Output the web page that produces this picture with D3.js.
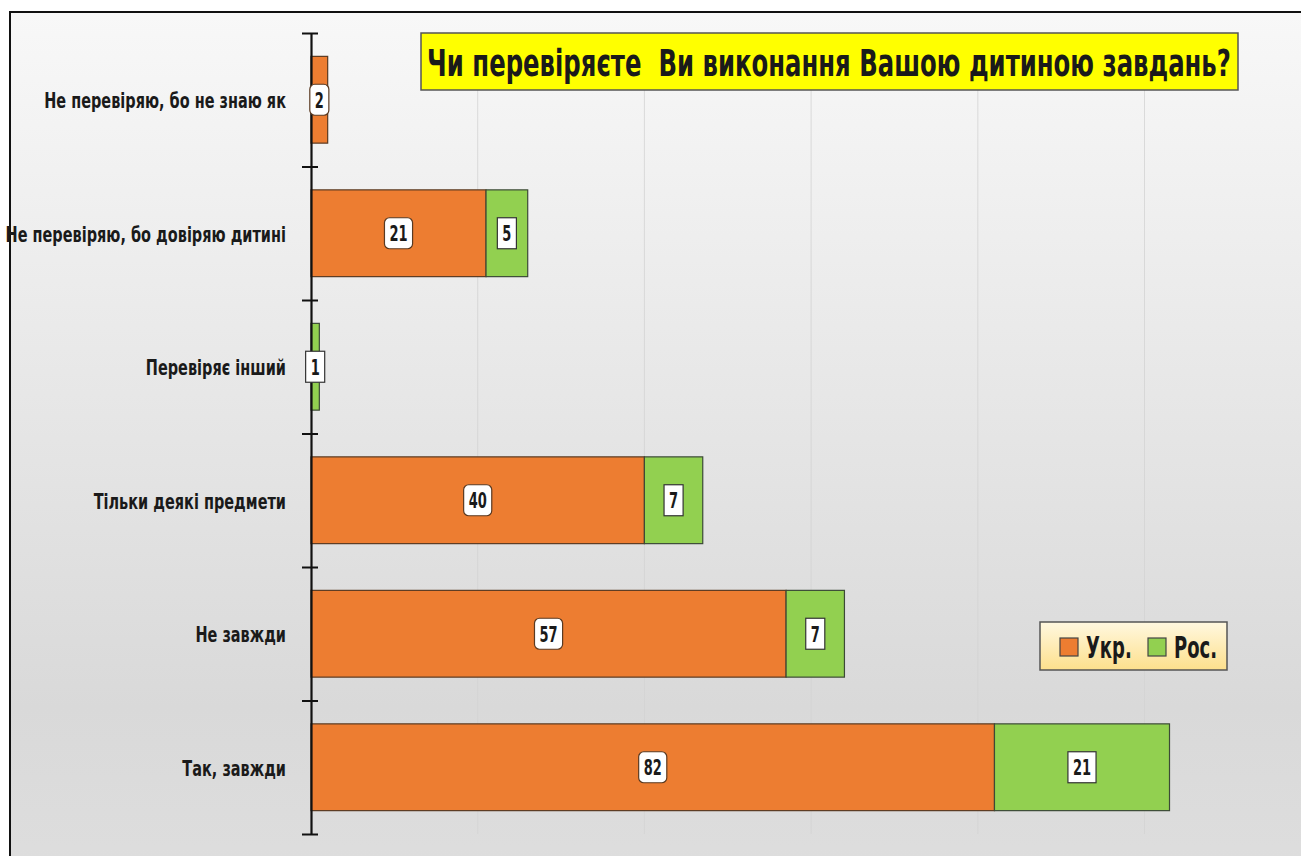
<!DOCTYPE html>
<html><head><meta charset="utf-8">
<script src="https://cdn.jsdelivr.net/npm/d3@7"></script>
<style>
html,body{margin:0;padding:0;background:#fff;}
svg{display:block;}
text{font-family:"DejaVu Sans",sans-serif;font-weight:bold;fill:#1a1a1a;white-space:pre;}
</style></head>
<body>
<svg id="chart" width="1301" height="856"></svg>
<script>
const categories = ["Не перевіряю, бо не знаю як", "Не перевіряю, бо довіряю дитині", "Перевіряє інший", "Тільки деякі предмети", "Не завжди", "Так, завжди"];
const ukr = [2, 21, 0, 40, 57, 82];
const ros = [0, 5, 1, 7, 7, 21];
const seriesNames = ["Укр.", "Рос."];
const gridTicks = [20, 40, 60, 80, 100];
const title = "Чи перевіряєте  Ви виконання Вашою дитиною завдань?";

const colors = ["#ed7d31", "#92d050"];
const svg = d3.select("#chart");
const defs = svg.append("defs");
const bg = defs.append("linearGradient").attr("id","bg").attr("x1",0).attr("y1",0).attr("x2",0).attr("y2",1);
bg.append("stop").attr("offset","0%").attr("stop-color","#f8f8f8");
bg.append("stop").attr("offset","80%").attr("stop-color","#d9d9d9");
bg.append("stop").attr("offset","100%").attr("stop-color","#dedede");
const lg = defs.append("linearGradient").attr("id","lg").attr("x1",0).attr("y1",0).attr("x2",0).attr("y2",1);
lg.append("stop").attr("offset","0%").attr("stop-color","#fff8e0");
lg.append("stop").attr("offset","100%").attr("stop-color","#fde08c");

svg.append("rect").attr("x",10).attr("y",12).attr("width",1310).attr("height",870)
  .attr("fill","url(#bg)").attr("stroke","#111").attr("stroke-width",2);

// condensed text helper
function ctext(parent, tx, ty, str, size, sx, anchor) {
  const g = parent.append("g").attr("transform", `translate(${tx},${ty}) scale(${sx},1)`);
  const t = g.append("text").attr("x",0).attr("y",0).attr("text-anchor", anchor)
    .attr("dominant-baseline","central").attr("font-size", size).text(str);
  return {g, t};
}

const x0 = 311;
const x = d3.scaleLinear().domain([0, 120]).range([x0, x0 + 120 * 8.335]);
const yTop = 33, yBot = 834;
const yb = d3.scaleLinear().domain([0, categories.length]).range([yTop, yBot]);
const y = d3.scaleBand().domain(categories).range([yTop, yBot]).paddingInner(0.35).paddingOuter(0.175);

// gridlines
svg.append("g").selectAll("line").data(gridTicks).join("line")
  .attr("x1", d => x(d)).attr("x2", d => x(d)).attr("y1", yTop).attr("y2", yBot)
  .attr("stroke", "#d4d4d4").attr("stroke-width", 1).attr("opacity", 0.8);

// stacked data
const data = categories.map((c,i) => ({cat:c, vals:[ukr[i], ros[i]]}));
const segs = [];
data.forEach(d => {
  let acc = 0;
  d.vals.forEach((v, s) => {
    if (v > 0) segs.push({cat:d.cat, s, v, a:acc, b:acc+v});
    acc += v;
  });
});

svg.append("g").selectAll("rect").data(segs).join("rect")
  .attr("x", d => x(d.a)).attr("width", d => x(d.b) - x(d.a))
  .attr("y", d => y(d.cat)).attr("height", y.bandwidth())
  .attr("fill", d => colors[d.s])
  .attr("stroke", d => d.s === 0 ? "#5a3a22" : "#3c4a36").attr("stroke-width", 1.2);

// axis
const axis = d3.axisLeft(yb).tickValues(d3.range(categories.length + 1)).tickFormat("").tickSizeInner(9).tickSizeOuter(0);
const ag = svg.append("g").attr("transform", `translate(${x0},0)`).call(axis);
ag.select(".domain").attr("stroke","#111").attr("stroke-width",2.2);
ag.selectAll(".tick line").attr("stroke","#111").attr("stroke-width",2).attr("x2",7).attr("x1",-9);

// category labels
const catG = svg.append("g");
categories.forEach(c => ctext(catG, 286, y(c) + y.bandwidth()/2 + 1, c, 21, 0.69, "end"));

// value labels
const labG = svg.append("g");
segs.forEach(d => {
  const cx = (x(d.a)+x(d.b))/2, cy = y(d.cat)+y.bandwidth()/2;
  const g = labG.append("g");
  const sx = 0.62;
  const {t} = ctext(g, cx, cy + 1, d.v, 21, sx, "middle");
  const w = t.node().getComputedTextLength() * sx + 10, h = 31;
  g.insert("rect", ":first-child").attr("x", cx - w/2).attr("y", cy - h/2).attr("width", w).attr("height", h)
    .attr("rx", d.s === 0 ? 5 : 0).attr("fill","#fff")
    .attr("stroke", d.s === 0 ? "#5a3a22" : "#333").attr("stroke-width",1.2);
});

// title
const tg = svg.append("g");
tg.append("rect").attr("x",421).attr("y",33).attr("width",817).attr("height",57)
  .attr("fill","#ffff00").attr("stroke","#555").attr("stroke-width",1.5);
const tt = ctext(tg, 829, 63, title, 37, 1, "middle");
const tsx = 804 / tt.t.node().getComputedTextLength();
tt.g.attr("transform", `translate(829,63) scale(${tsx},1)`);

// legend
const leg = svg.append("g").attr("transform","translate(1040,622)");
leg.append("rect").attr("width",187).attr("height",48).attr("fill","url(#lg)").attr("stroke","#555").attr("stroke-width",1.5);
const legX = [20, 108];
seriesNames.forEach((n, i) => {
  leg.append("rect").attr("x", legX[i]).attr("y", 16).attr("width",18).attr("height",18)
    .attr("fill", colors[i]).attr("stroke","#444").attr("stroke-width",1.2);
  ctext(leg, legX[i] + 26, 26, n, 30, 0.6, "start");
});
</script>
</body></html>
